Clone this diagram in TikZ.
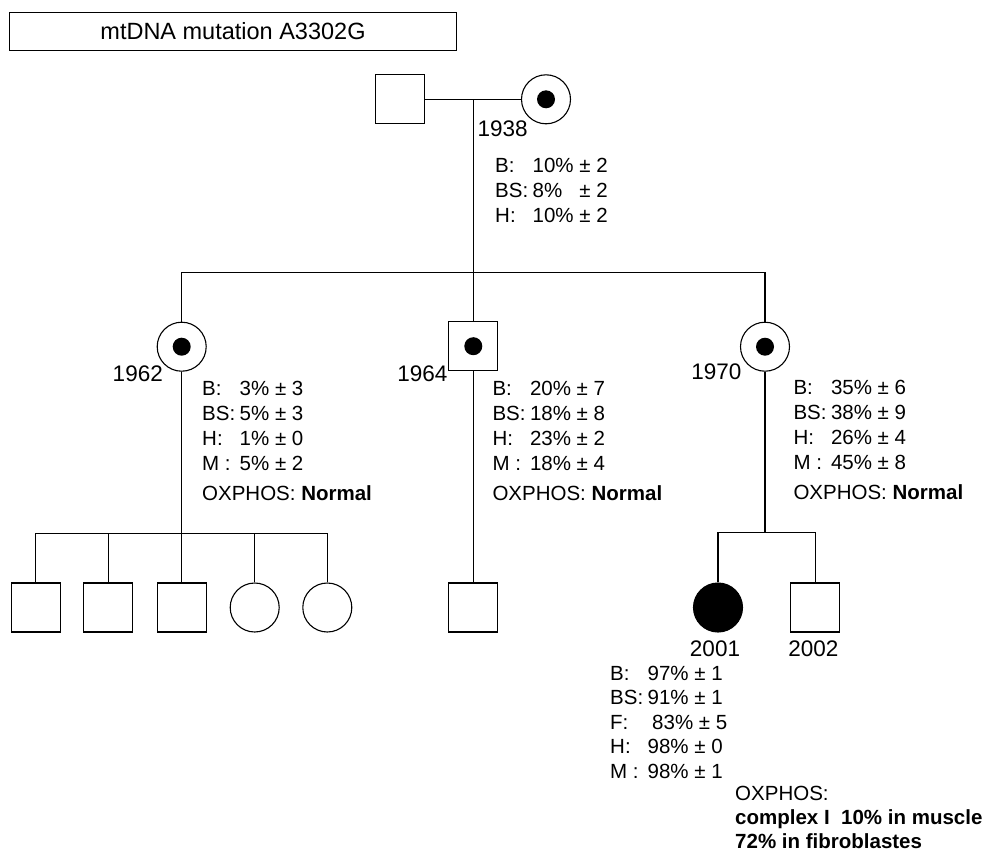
\documentclass[tikz,border=0pt]{standalone}
\usepackage{fontspec}
\setmainfont{Liberation Sans}
\newcommand\lab[2][37.5pt]{\makebox[#1][l]{#2}}
\tikzset{
  line/.style={line width=1.1pt},
  sq/.style={draw, line width=1.1pt, rectangle, minimum size=49pt, inner sep=0pt},
  ci/.style={draw, line width=1.1pt, circle, minimum size=49pt, inner sep=0pt},
  dot/.style={path picture={\fill (path picture bounding box.center) circle (9pt);}},
  aff/.style={ci, fill=black},
  yr/.style={font=\fontsize{22.5}{27}\selectfont, inner sep=0pt},
  data/.style={font=\fontsize{20.5}{25}\selectfont, inner sep=0pt, anchor=base west},
  titlebox/.style={draw, line width=1.1pt, rectangle, minimum width=447pt, minimum height=38pt, inner sep=0pt, font=\fontsize{23.5}{28}\selectfont}
}
\begin{document}
\begin{tikzpicture}[x=1pt,y=-1pt]
\useasboundingbox (0,0) rectangle (987,851);

\node[titlebox] (title) at (233,31.2) {mtDNA mutation A3302G};

% generation I
\node[sq] (fa) at (400,99.3) {};
\node[ci,dot] (mo) at (546,99.3) {};
\coordinate (m1) at (473.3,99.3);
\node[yr, anchor=base west] (y1938) at (477.3,136.4) {1938};
\node[data] (d1938) at (495,172.3) {\begin{tabular}[t]{@{}l@{}}
\lab{B:}10\% ± 2\\
\lab{BS:}8\%\hphantom{0} ± 2\\
\lab{H:}10\% ± 2
\end{tabular}};

% generation II
\node[ci,dot] (c1) at (181.7,346.7) {};
\node[sq,dot] (c2) at (473.3,346.2) {};
\node[ci,dot] (c3) at (765,346.7) {};
\coordinate (sib1) at (473.3,272.3);

\draw[line] (fa) -- (mo);
\draw[line] (m1) -- (c2);
\draw[line] (c1.north) |- (sib1) -| (c3.north);

\node[yr, anchor=base east] (y1962) at (163,381) {1962};
\node[yr, anchor=base east] (y1964) at (447.7,381) {1964};
\node[yr, anchor=base east] (y1970) at (741.7,379) {1970};

\node[data] (d1962) at (202,395.6) {\begin{tabular}[t]{@{}l@{}}
\lab{B:}3\% ± 3\\
\lab{BS:}5\% ± 3\\
\lab{H:}1\% ± 0\\
\lab{M :}5\% ± 2\\[5pt]
OXPHOS: \textbf{Normal}
\end{tabular}};
\node[data] (d1964) at (492.3,395.6) {\begin{tabular}[t]{@{}l@{}}
\lab{B:}20\% ± 7\\
\lab{BS:}18\% ± 8\\
\lab{H:}23\% ± 2\\
\lab{M :}18\% ± 4\\[5pt]
OXPHOS: \textbf{Normal}
\end{tabular}};
\node[data] (d1970) at (793.3,394.5) {\begin{tabular}[t]{@{}l@{}}
\lab{B:}35\% ± 6\\
\lab{BS:}38\% ± 9\\
\lab{H:}26\% ± 4\\
\lab{M :}45\% ± 8\\[5pt]
OXPHOS: \textbf{Normal}
\end{tabular}};

% generation III
\node[sq] (k1) at (35.7,607.5) {};
\node[sq] (k2) at (108.3,607.5) {};
\node[sq] (k3) at (181.7,607.5) {};
\node[ci] (k4) at (254.7,607.5) {};
\node[ci] (k5) at (327.3,607.5) {};
\coordinate (sib2) at (181.7,533.3);
\draw[line] (c1) -- (k3);
\draw[line] (k1.north) |- (sib2) -| (k5.north);
\draw[line] (k2.north) |- (sib2);
\draw[line] (k4.north) |- (sib2);

\node[sq] (k6) at (473.3,607.5) {};
\draw[line] (c2) -- (k6);

\node[aff] (k7) at (718,607.5) {};
\node[sq] (k8) at (815.3,607.5) {};
\coordinate (sib3) at (765,532.7);
\draw[line] (c3) -- (sib3);
\draw[line] (k7.north) |- (sib3) -| (k8.north);

\node[yr, anchor=base] (y2001) at (715,656.4) {2001};
\node[yr, anchor=base] (y2002) at (813.3,656.4) {2002};

\node[data, font=\fontsize{20.5}{24.6}\selectfont] (d2001) at (610,680) {\begin{tabular}[t]{@{}l@{}}
\lab{B:}97\% ± 1\\
\lab{BS:}91\% ± 1\\
\lab[42pt]{F:}83\% ± 5\\
\lab{H:}98\% ± 0\\
\lab{M :}98\% ± 1
\end{tabular}};
\node[data] (ox1) at (735,800.4) {OXPHOS:};
\node[data] (ox2) at (735,824.8) {\textbf{complex I\ \ 10\% in muscle}};
\node[data] (ox3) at (735,848.6) {\textbf{72\% in fibroblastes}};
\end{tikzpicture}
\end{document}
